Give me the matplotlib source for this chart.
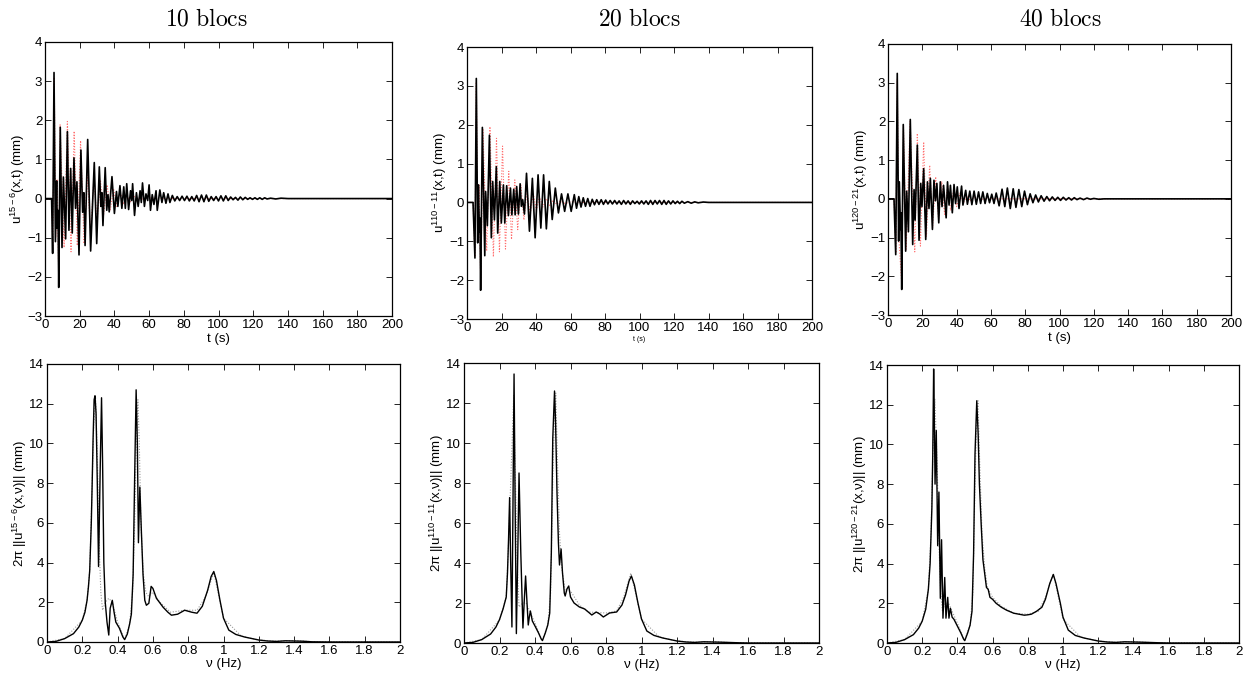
import matplotlib
matplotlib.use("Agg")
import matplotlib.pyplot as plt

plt.rcParams['font.family'] = ['Liberation Sans', 'DejaVu Sans']
plt.rcParams['mathtext.fontset'] = 'custom'
plt.rcParams['mathtext.rm'] = 'Liberation Sans'
plt.rcParams['mathtext.it'] = 'Liberation Sans:italic'
plt.rcParams['mathtext.bf'] = 'Liberation Sans:bold'

# ---------------- data ----------------
titles = ["10 blocs", "20 blocs", "40 blocs"]
ylabels_time = [r"u$^{15-6}$(x,t) (mm)", r"u$^{110-11}$(x,t) (mm)", r"u$^{120-21}$(x,t) (mm)"]
ylabels_freq = [r"2π ||u$^{15-6}$(x,ν)|| (mm)", r"2π ||u$^{110-11}$(x,ν)|| (mm)",
                r"2π ||u$^{120-21}$(x,ν)|| (mm)"]

# time-domain extrema (t in s, u in mm) -- black = block model, red = reference
time_black_10 = [(0, 0), (3.8, 0), (4.4, -1.40), (5.2, 3.22), (6.0, -1.10), (6.7, 0.45), (7.1, -0.76),
                 (7.5, -0.30), (7.9, -2.27), (8.8, 1.82), (9.8, -1.25), (10.6, 0.55), (11.9, -1.03),
                 (12.9, 1.71), (13.8, -0.81), (14.8, 0.77), (15.7, -0.88), (16.7, 1.04), (17.6, -0.25),
                 (18.4, 0.43), (19.6, -1.44), (20.7, 1.24), (21.7, -0.35), (22.4, 0.15), (23.1, -1.20),
                 (24.6, 1.51), (26.3, -1.34), (28.4, 0.92), (29.8, -1.15), (31.3, 0.81), (32.2, -0.2),
                 (32.8, 0.15), (33.4, -0.69), (34.7, 0.79), (35.6, -0.3), (36.3, 0.1), (37.0, -0.34),
                 (38.6, 0.56), (40.0, -0.38), (41.2, 0.18), (42.0, -0.2), (43.2, 0.33), (44.3, -0.25),
                 (45.4, 0.3), (46.3, -0.25), (47.1, 0.38), (48.2, -0.28), (49.3, 0.2), (50.0, -0.05),
                 (50.5, 0.38), (51.6, -0.43), (52.7, 0.15), (53.7, -0.2), (54.8, 0.2), (55.5, -0.1),
                 (56.2, 0.40), (57.3, -0.2), (58.2, 0.12), (59.2, -0.05), (60.0, 0.35), (60.8, -0.30),
                 (61.8, 0.1), (62.8, -0.15), (64.0, 0.2), (64.7, -0.30), (66.2, 0.22), (67.4, -0.1),
                 (68.4, 0.15), (69.7, -0.12), (70.9, 0.12), (72.0, -0.1), (73.4, 0.08), (74.8, -0.06),
                 (76.2, 0.05), (77.6, -0.05), (79.0, 0.06), (80.4, -0.05), (81.8, 0.06), (83.2, -0.06),
                 (84.6, 0.05), (86.0, -0.06), (87.4, 0.08), (88.8, -0.08), (90.2, 0.09), (91.6, -0.08),
                 (93.0, 0.09), (94.4, -0.07), (95.8, 0.05), (97.2, -0.05), (98.6, 0.05), (100.0, -0.06),
                 (101.4, 0.07), (102.8, -0.06), (104.2, 0.07), (105.6, -0.05), (107.0, 0.04),
                 (108.4, -0.03), (109.8, 0.03), (111.2, -0.04), (112.6, 0.04), (114.0, -0.03),
                 (115.4, 0.03), (116.8, -0.02), (118.2, 0.02), (119.6, -0.02), (121.0, 0.02),
                 (122.4, -0.02), (123.8, 0.02), (125.2, -0.02), (126.6, 0.02), (128.0, -0.01),
                 (130.0, 0.01), (133.0, -0.01), (136.0, 0.01), (140.0, 0), (200, 0)]
time_red_10 = [(0, 0), (3.8, 0), (4.5, -1.3), (5.3, 3.1), (6.2, -1.0), (7.0, 0.5), (8.0, -2.2),
               (8.7, 1.9), (11.0, -1.25), (12.9, 1.97), (15.0, -1.36), (16.8, 1.72), (18.6, -1.2),
               (20.5, 1.48), (22.5, -1.15), (24.4, 0.6), (26.3, -0.9), (28.2, 0.55), (30.0, -0.6),
               (32.0, 0.45), (33.8, -0.4), (35.8, 0.35), (37.6, -0.3), (39.5, 0.25), (41.4, -0.2),
               (43.3, 0.18), (45.2, -0.15), (47.1, 0.12), (49.0, -0.1), (51.0, 0.08), (53.0, -0.06),
               (55.0, 0.05), (57.0, -0.04), (60.0, 0.02), (65.0, 0), (200, 0)]

time_black_20 = [(0, 0), (3.5, 0), (4.6, -1.43), (5.4, 3.19), (6.2, -1.04), (6.6, 0.45), (7.2, -0.77),
                 (7.5, -0.4), (7.9, -2.26), (8.9, 1.93), (10.3, -1.37), (10.8, 0.28), (11.8, -0.6),
                 (13.0, 1.73), (14.1, -0.91), (14.9, 0.54), (15.9, -0.45), (17.0, 0.92), (17.8, -0.79),
                 (19.0, 0.54), (19.9, -0.53), (21.1, 0.45), (21.9, -0.53), (23.0, 0.43), (24.0, -0.34),
                 (25.2, 0.37), (26.0, -0.32), (27.1, 0.34), (27.9, -0.32), (28.8, 0.41), (29.8, -0.3),
                 (30.8, 0.48), (31.5, -0.1), (32.3, 0.07), (33.3, -0.3), (34.5, 0.75), (36.2, -0.74),
                 (37.9, 0.62), (39.5, -0.91), (41.2, 0.71), (42.8, -0.66), (44.4, 0.71), (46.0, -0.68),
                 (47.7, 0.54), (49.4, -0.44), (51.2, 0.37), (53.0, -0.27), (54.8, 0.22), (56.6, -0.23),
                 (58.5, 0.22), (60.4, -0.23), (62.2, 0.2), (63.5, -0.15), (64.8, 0.15), (66.1, -0.12),
                 (67.4, 0.12), (68.7, -0.1), (70.0, 0.1), (71.3, -0.1), (72.6, 0.08), (73.9, -0.06),
                 (75.2, 0.07), (76.5, -0.05), (77.8, 0.07), (79.1, -0.05), (80.4, 0.06), (81.7, -0.04),
                 (83.0, 0.05), (84.3, -0.04), (85.6, 0.05), (86.9, -0.04), (88.2, 0.04), (89.5, -0.05),
                 (90.8, 0.05), (92.1, -0.04), (93.4, 0.04), (94.7, -0.05), (96.0, 0.04), (97.3, -0.03),
                 (98.6, 0.03), (99.9, -0.04), (101.2, 0.04), (102.5, -0.04), (103.8, 0.04),
                 (105.1, -0.05), (106.4, 0.05), (107.7, -0.05), (109.0, 0.05), (110.3, -0.04),
                 (111.6, 0.05), (112.9, -0.05), (114.2, 0.05), (115.5, -0.05), (116.8, 0.04),
                 (118.1, -0.04), (119.4, 0.04), (120.7, -0.03), (122.0, 0.03), (123.3, -0.03),
                 (124.6, 0.03), (126.0, -0.02), (128.0, 0.02), (130.0, -0.02), (132.0, 0.015),
                 (134.0, -0.01), (137.0, 0.01), (140.0, 0), (200, 0)]
time_red_20 = [(0, 0), (3.5, 0), (4.6, -1.4), (5.4, 3.1), (6.3, -1.0), (7.0, 0.45), (8.0, -2.2),
               (9.2, 1.9), (11.4, -1.25), (13.3, 1.95), (15.3, -1.40), (17.1, 1.65), (18.8, -1.27),
               (20.6, 1.45), (22.3, -1.20), (24.2, 0.80), (25.8, -0.95), (27.7, 0.58), (29.4, -0.7),
               (31.2, 0.45), (33.0, -0.45), (34.8, 0.3), (36.6, -0.3), (38.4, 0.22), (40.2, -0.2),
               (42.0, 0.15), (44.0, -0.12), (46.0, 0.1), (48.0, -0.08), (50.0, 0.06), (52.0, -0.05),
               (54.0, 0.04), (57.0, -0.03), (60.0, 0.02), (65.0, 0), (200, 0)]

time_black_40 = [(0, 0), (3.5, 0), (4.5, -1.44), (5.4, 3.24), (6.2, -1.09), (6.6, 0.44), (7.3, -0.79),
                 (7.5, -0.36), (8.0, -2.34), (8.9, 1.92), (10.3, -1.35), (10.9, 0.2), (11.9, -0.85),
                 (13.0, 2.05), (14.4, -1.18), (15.2, 0.24), (15.8, -0.55), (17.1, 1.39), (18.1, -1.07),
                 (19.1, 0.4), (19.8, -0.2), (20.8, 0.78), (22.0, -1.05), (23.0, 0.44), (23.9, -0.25),
                 (24.7, 0.53), (25.9, -0.79), (26.8, 0.48), (27.7, -0.05), (28.5, 0.4), (29.6, -0.62),
                 (30.5, 0.44), (31.5, -0.2), (32.4, 0.35), (33.9, -0.49), (34.7, 0.44), (35.6, -0.16),
                 (36.4, 0.35), (37.5, -0.36), (38.5, 0.37), (39.4, -0.12), (40.4, 0.31), (41.4, -0.25),
                 (42.9, 0.33), (43.7, -0.16), (45.3, 0.22), (46.3, -0.14), (47.7, 0.2), (48.9, -0.15),
                 (50.2, 0.2), (51.5, -0.14), (52.8, 0.18), (54.0, -0.12), (55.3, 0.18), (56.6, -0.12),
                 (57.9, 0.14), (59.2, -0.1), (60.5, 0.12), (61.8, -0.12), (63.1, 0.15), (64.8, -0.18),
                 (66.5, 0.25), (68.1, -0.2), (69.6, 0.28), (71.3, -0.25), (73.0, 0.26), (74.6, -0.22),
                 (76.3, 0.24), (78.0, -0.2), (79.6, 0.2), (81.3, -0.15), (82.9, 0.13), (84.5, -0.1),
                 (86.1, 0.1), (87.7, -0.08), (89.3, 0.08), (91.0, -0.06), (92.6, 0.06), (94.2, -0.05),
                 (95.8, 0.05), (97.4, -0.04), (99.0, 0.04), (100.6, -0.04), (102.2, 0.04),
                 (103.8, -0.03), (105.4, 0.03), (107.0, -0.03), (108.6, 0.03), (110.2, -0.02),
                 (112.0, 0.02), (114.0, -0.02), (116.0, 0.02), (118.0, -0.01), (120.0, 0.01),
                 (123.0, -0.01), (126.0, 0), (200, 0)]
time_red_40 = [(0, 0), (3.5, 0), (4.6, -1.4), (5.4, 3.1), (6.3, -1.0), (8.0, -2.2), (9.0, 1.9),
               (10.6, -1.3), (12.9, 2.0), (15.6, -1.37), (17.1, 1.69), (18.9, -1.22), (20.8, 1.47),
               (22.4, -0.98), (24.3, 0.87), (26.0, -0.75), (27.8, 0.57), (29.5, -0.55), (31.3, 0.45),
               (33.0, -0.4), (34.8, 0.35), (36.5, -0.3), (38.3, 0.25), (40.0, -0.2), (42.0, 0.15),
               (44.0, -0.1), (46.0, 0.08), (48.0, -0.06), (50.0, 0.04), (54.0, -0.02), (58.0, 0.01),
               (62.0, 0), (200, 0)]

# spectra (nu in Hz, amplitude in mm)
spec_black_10 = [(0, 0), (0.05, 0.03), (0.1, 0.17), (0.15, 0.42), (0.18, 0.75), (0.2, 1.1), (0.215, 1.5),
                 (0.227, 2.1), (0.235, 2.8), (0.242, 3.6), (0.251, 6.0), (0.256, 8.0), (0.261, 10.2),
                 (0.267, 12.2), (0.272, 12.4), (0.278, 11.5), (0.285, 8.0), (0.292, 3.8), (0.302, 9.0),
                 (0.309, 12.3), (0.315, 9.0), (0.322, 4.0), (0.33, 2.0), (0.34, 1.0), (0.35, 0.35),
                 (0.358, 1.7), (0.37, 2.1), (0.38, 1.5), (0.39, 1.0), (0.41, 0.7), (0.43, 0.25),
                 (0.44, 0.12), (0.455, 0.4), (0.468, 0.9), (0.478, 1.4), (0.488, 3.4), (0.497, 8.5),
                 (0.505, 12.7), (0.512, 10.0), (0.518, 5.0), (0.526, 7.8), (0.535, 5.5), (0.544, 3.4),
                 (0.554, 2.1), (0.563, 1.85), (0.577, 1.95), (0.59, 2.8), (0.6, 2.7), (0.62, 2.2),
                 (0.658, 1.75), (0.685, 1.5), (0.705, 1.35), (0.74, 1.4), (0.78, 1.6), (0.82, 1.5),
                 (0.85, 1.45), (0.88, 1.8), (0.91, 2.6), (0.93, 3.3), (0.945, 3.55), (0.96, 3.1),
                 (0.98, 2.1), (1.0, 1.2), (1.03, 0.6), (1.07, 0.38), (1.12, 0.25), (1.2, 0.1),
                 (1.25, 0.05), (1.3, 0.03), (1.35, 0.06), (1.45, 0.04), (1.5, 0.01), (1.6, 0), (2.0, 0)]
spec_ref_10 = [(0, 0), (0.1, 0.17), (0.2, 1.1), (0.227, 2.1), (0.242, 3.6), (0.256, 8.0), (0.265, 11.0),
               (0.275, 12.3), (0.285, 9.5), (0.295, 5.0), (0.305, 2.5), (0.315, 1.6), (0.33, 2.0),
               (0.35, 2.2), (0.37, 2.0), (0.4, 1.0), (0.44, 0.12), (0.468, 0.9), (0.485, 2.5),
               (0.497, 6.0), (0.507, 10.5), (0.515, 12.2), (0.523, 10.0), (0.532, 6.0), (0.545, 3.5),
               (0.56, 2.5), (0.575, 2.3), (0.6, 2.5), (0.64, 2.0), (0.7, 1.5), (0.78, 1.6),
               (0.85, 1.6), (0.9, 2.3), (0.945, 3.5), (1.0, 1.2), (1.1, 0.3), (1.2, 0.1), (1.3, 0.04),
               (1.4, 0.07), (1.5, 0.02), (2.0, 0)]

spec_black_20 = [(0, 0), (0.05, 0.03), (0.1, 0.17), (0.15, 0.45), (0.18, 0.8), (0.2, 1.17), (0.22, 1.7),
                 (0.238, 2.3), (0.245, 3.5), (0.251, 5.2), (0.257, 7.27), (0.263, 4.0), (0.27, 0.8),
                 (0.276, 7.0), (0.282, 13.45), (0.288, 7.0), (0.295, 0.47), (0.303, 4.5), (0.31, 8.5),
                 (0.32, 4.5), (0.332, 0.75), (0.34, 2.2), (0.347, 3.35), (0.355, 2.0), (0.362, 0.9),
                 (0.368, 1.3), (0.374, 1.6), (0.385, 1.1), (0.40, 0.85), (0.42, 0.5), (0.435, 0.2),
                 (0.442, 0.12), (0.458, 0.5), (0.472, 0.9), (0.483, 1.5), (0.492, 4.5), (0.5, 10.2),
                 (0.51, 12.6), (0.516, 11.0), (0.524, 7.5), (0.532, 5.0), (0.538, 3.9), (0.547, 4.7),
                 (0.555, 3.5), (0.565, 2.5), (0.57, 2.35), (0.58, 2.7), (0.59, 2.85), (0.6, 2.3),
                 (0.62, 2.0), (0.65, 1.8), (0.68, 1.7), (0.7, 1.55), (0.72, 1.4), (0.745, 1.55),
                 (0.765, 1.45), (0.785, 1.3), (0.82, 1.5), (0.86, 1.55), (0.89, 1.9), (0.91, 2.4),
                 (0.93, 3.1), (0.943, 3.35), (0.96, 2.9), (0.98, 2.0), (1.0, 1.2), (1.03, 0.6),
                 (1.07, 0.38), (1.12, 0.25), (1.2, 0.1), (1.25, 0.05), (1.3, 0.03), (1.35, 0.06),
                 (1.45, 0.04), (1.55, 0.01), (1.6, 0), (2.0, 0)]
spec_ref_20 = [(0, 0), (0.1, 0.17), (0.2, 1.15), (0.238, 2.3), (0.251, 5.0), (0.265, 8.5), (0.28, 12.4),
               (0.29, 8.0), (0.30, 4.0), (0.31, 1.8), (0.33, 2.0), (0.35, 2.0), (0.4, 1.0),
               (0.44, 0.12), (0.472, 0.9), (0.488, 2.5), (0.5, 8.0), (0.51, 11.5), (0.517, 12.5),
               (0.527, 9.0), (0.538, 5.5), (0.55, 3.8), (0.57, 2.6), (0.6, 2.6), (0.65, 1.9),
               (0.7, 1.55), (0.8, 1.5), (0.86, 1.6), (0.9, 2.3), (0.94, 3.5), (1.0, 1.2), (1.1, 0.3),
               (1.2, 0.1), (1.3, 0.04), (1.4, 0.07), (1.5, 0.02), (2.0, 0)]

spec_black_40 = [(0, 0), (0.05, 0.03), (0.1, 0.17), (0.15, 0.42), (0.18, 0.75), (0.2, 1.1), (0.22, 1.7),
                 (0.235, 2.7), (0.245, 4.0), (0.255, 6.8), (0.26, 9.5), (0.265, 13.8), (0.268, 12.0),
                 (0.273, 8.0), (0.28, 10.7), (0.288, 4.9), (0.295, 7.6), (0.303, 2.25), (0.31, 5.2),
                 (0.318, 1.25), (0.328, 3.3), (0.335, 1.25), (0.345, 2.3), (0.352, 1.25), (0.36, 1.75),
                 (0.37, 1.3), (0.38, 1.2), (0.40, 0.85), (0.42, 0.5), (0.435, 0.2), (0.442, 0.12),
                 (0.458, 0.5), (0.472, 0.9), (0.483, 1.6), (0.492, 4.5), (0.5, 9.5), (0.51, 12.2),
                 (0.518, 10.5), (0.525, 8.0), (0.535, 6.0), (0.545, 4.2), (0.555, 3.5), (0.565, 2.8),
                 (0.575, 2.7), (0.585, 2.3), (0.6, 2.2), (0.62, 2.0), (0.65, 1.8), (0.68, 1.65),
                 (0.72, 1.5), (0.75, 1.45), (0.78, 1.4), (0.8, 1.42), (0.82, 1.45), (0.85, 1.6),
                 (0.88, 1.8), (0.9, 2.2), (0.925, 3.0), (0.945, 3.45), (0.96, 3.0), (0.985, 2.0),
                 (1.0, 1.3), (1.03, 0.65), (1.07, 0.38), (1.12, 0.25), (1.2, 0.1), (1.25, 0.05),
                 (1.3, 0.03), (1.35, 0.06), (1.45, 0.04), (1.55, 0.01), (1.6, 0), (2.0, 0)]
spec_ref_40 = [(0, 0), (0.1, 0.17), (0.2, 1.1), (0.235, 2.7), (0.25, 5.5), (0.262, 10.0), (0.272, 12.3),
               (0.285, 9.0), (0.295, 5.0), (0.305, 2.5), (0.315, 1.6), (0.33, 2.0), (0.35, 2.0),
               (0.4, 1.0), (0.44, 0.12), (0.472, 0.9), (0.488, 2.5), (0.5, 8.0), (0.51, 11.5),
               (0.517, 12.2), (0.527, 9.0), (0.54, 5.5), (0.555, 3.8), (0.57, 2.8), (0.6, 2.3),
               (0.65, 1.85), (0.72, 1.5), (0.8, 1.45), (0.86, 1.6), (0.9, 2.3), (0.945, 3.5),
               (1.0, 1.2), (1.1, 0.3), (1.2, 0.1), (1.3, 0.04), (1.4, 0.07), (1.5, 0.02), (2.0, 0)]

time_xticks = list(range(0, 201, 20))
time_yticks = [-3, -2, -1, 0, 1, 2, 3, 4]
freq_xticks = [0, 0.2, 0.4, 0.6, 0.8, 1, 1.2, 1.4, 1.6, 1.8, 2]
freq_xticklabels = ["0", "0.2", "0.4", "0.6", "0.8", "1", "1.2", "1.4", "1.6", "1.8", "2"]
freq_yticks = [0, 2, 4, 6, 8, 10, 12, 14]

time_black = [time_black_10, time_black_20, time_black_40]
time_red = [time_red_10, time_red_20, time_red_40]
spec_black = [spec_black_10, spec_black_20, spec_black_40]
spec_ref = [spec_ref_10, spec_ref_20, spec_ref_40]

# ---------------- layout ----------------
W, H = 1245, 681
fig = plt.figure(figsize=(W / 100, H / 100), dpi=100)


def px_axes(x0, y0, x1, y1):
    return fig.add_axes([x0 / W, 1 - y1 / H, (x1 - x0) / W, (y1 - y0) / H])


top_boxes = [(45, 42, 392, 316), (467, 47, 812, 319), (888, 44, 1231, 315)]
bot_boxes = [(47, 364, 400, 642), (464, 363, 819, 643), (887, 365, 1239, 643)]
title_x = [206, 639, 1060]
xlabel_sizes = [9.5, 5, 9.5]


def style(ax):
    ax.tick_params(direction='in', length=4, width=0.6, labelsize=9.5, top=True, right=True,
                   pad=2)
    for s in ax.spines.values():
        s.set_linewidth(0.9)


for i in range(3):
    ax = px_axes(*top_boxes[i])
    tr, ur = zip(*time_red[i])
    tb, ub = zip(*time_black[i])
    ax.plot(tr, ur, color='#ff7070', lw=0.8, ls=(0, (1, 1.5)))
    ax.plot(tb, ub, color='black', lw=1.2)
    ax.set_xlim(0, 200)
    ax.set_ylim(-3, 4)
    ax.set_xticks(time_xticks)
    ax.set_yticks(time_yticks)
    style(ax)
    ax.set_xlabel("t (s)", fontsize=xlabel_sizes[i], labelpad=1.5)
    ax.set_ylabel(ylabels_time[i], fontsize=9.5, labelpad=0)

    ax2 = px_axes(*bot_boxes[i])
    fr, ar = zip(*spec_ref[i])
    fb, ab = zip(*spec_black[i])
    ax2.plot(fr, ar, color='#9a9a9a', lw=0.8, ls=(0, (1, 1.5)))
    ax2.plot(fb, ab, color='black', lw=1.0)
    ax2.set_xlim(0, 2)
    ax2.set_ylim(0, 14)
    ax2.set_xticks(freq_xticks)
    ax2.set_xticklabels(freq_xticklabels)
    ax2.set_yticks(freq_yticks)
    style(ax2)
    ax2.set_xlabel("ν (Hz)", fontsize=9.5, labelpad=1)
    ax2.set_ylabel(ylabels_freq[i], fontsize=9.5, labelpad=0)

    fig.text(title_x[i] / W, 1 - 20 / H, r"$\mathrm{" + titles[i].replace(" ", r"\ ") + "}$",
             ha='center', va='center', fontsize=17, math_fontfamily='cm')

fig.savefig("out.png", dpi=100)
